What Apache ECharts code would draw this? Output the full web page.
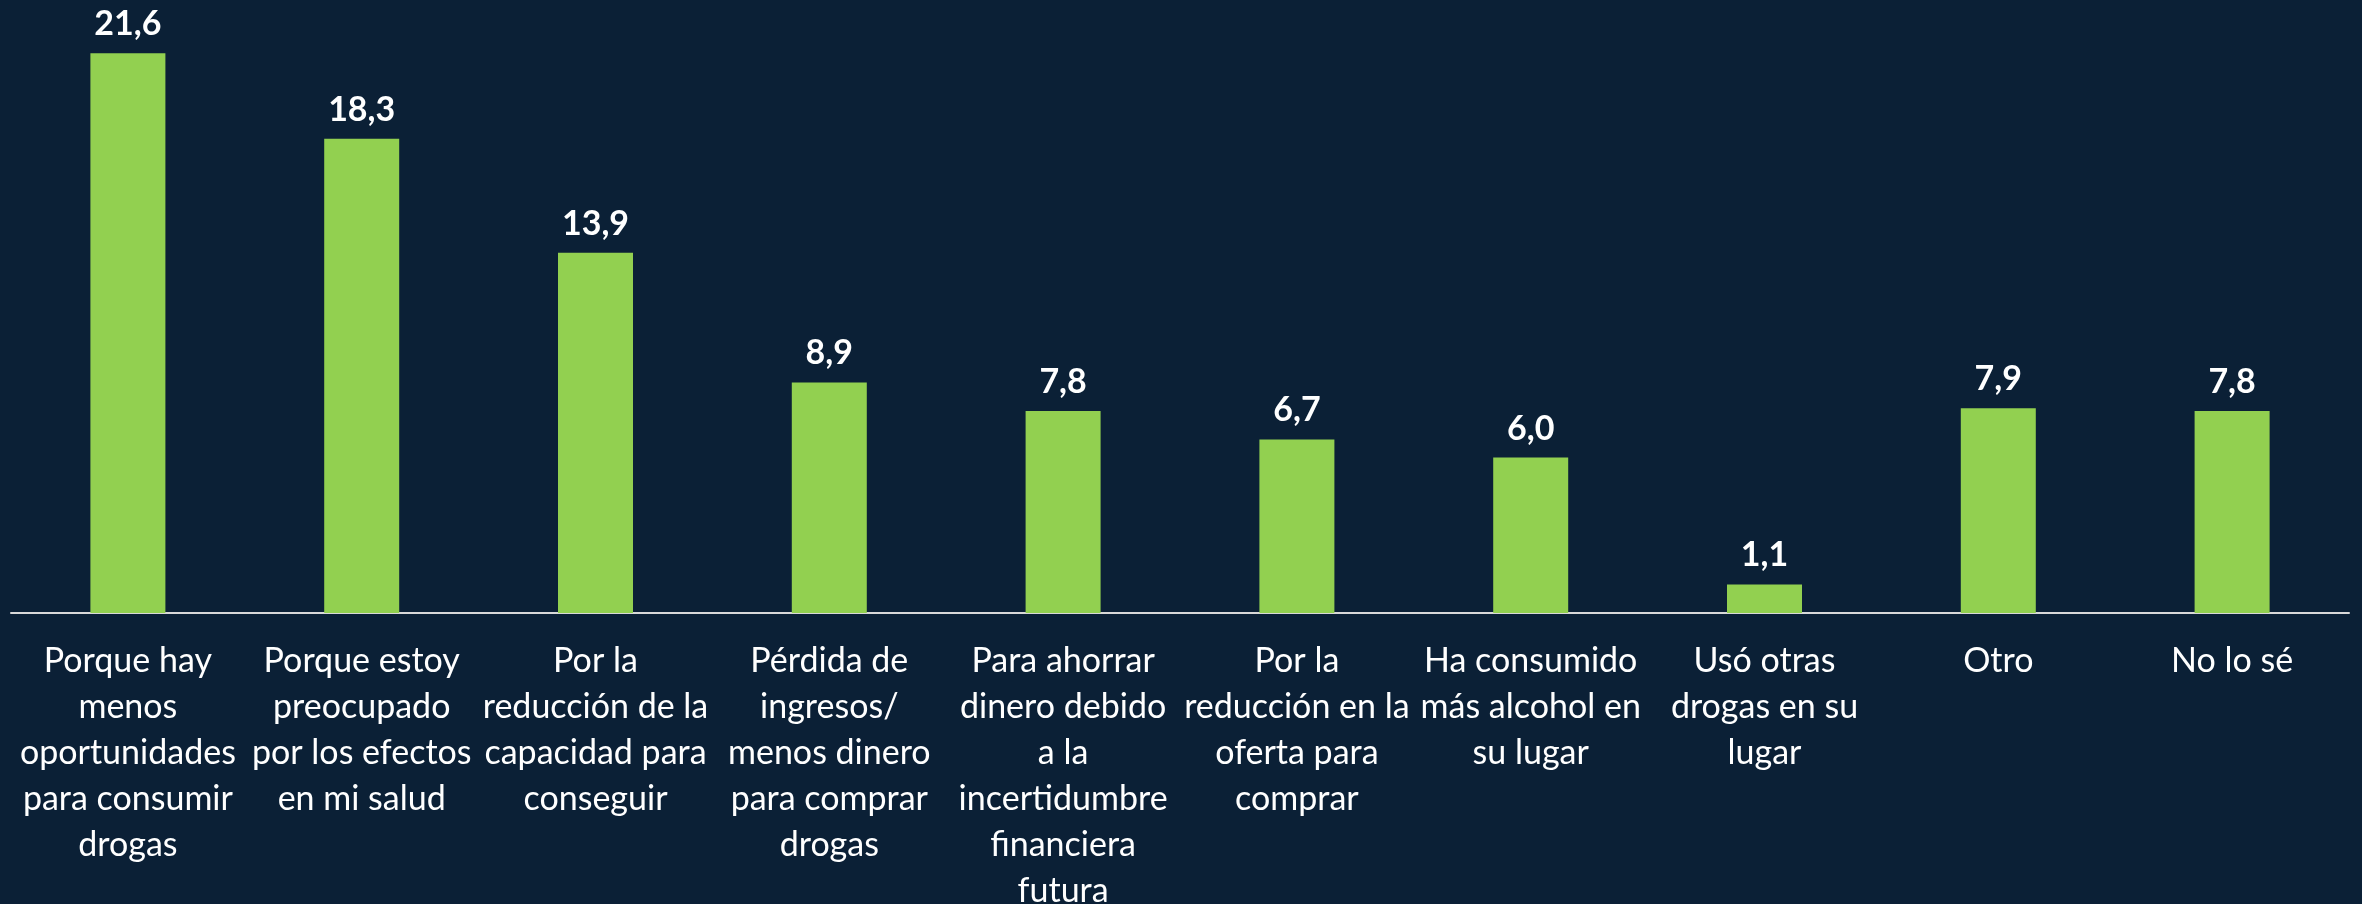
<!DOCTYPE html>
<html>
<head>
<meta charset="utf-8">
<title>Motivos</title>
<script src="https://cdn.jsdelivr.net/npm/echarts@6/dist/echarts.min.js"></script>
<style>
  html, body { margin: 0; padding: 0; background: #0b2036; }
  #chart { width: 2362px; height: 904px; }
</style>
</head>
<body>
<div id="chart"></div>
<script>
// categorías (saltos de línea como en el original)
const categories = [
  'Porque hay\nmenos\noportunidades\npara consumir\ndrogas',
  'Porque estoy\npreocupado\npor los efectos\nen mi salud',
  'Por la\nreducción de la\ncapacidad para\nconseguir',
  'Pérdida de\ningresos/\nmenos dinero\npara comprar\ndrogas',
  'Para ahorrar\ndinero debido\na la\nincertidumbre\nfinanciera\nfutura',
  'Por la\nreducción en la\noferta para\ncomprar',
  'Ha consumido\nmás alcohol en\nsu lugar',
  'Usó otras\ndrogas en su\nlugar',
  'Otro',
  'No lo sé'
]

// porcentajes
const values = [21.6, 18.3, 13.9, 8.9, 7.8, 6.7, 6.0, 1.1, 7.9, 7.8]

const chart = echarts.init(document.getElementById('chart'))

chart.setOption({
  backgroundColor: '#0b2036',
  animation: false,
  grid: {
    left: 11,
    right: 13,
    top: 43,
    bottom: 291,
    outerBoundsMode: 'none'
  },
  xAxis: {
    type: 'category',
    data: categories,
    axisLine: { lineStyle: { color: '#d9d9d9', width: 2 } },
    axisTick: { show: false },
    axisLabel: {
      interval: 0,
      margin: 25,
      color: '#ffffff',
      fontFamily: 'Lato',
      fontSize: 34,
      lineHeight: 46
    }
  },
  yAxis: {
    type: 'value',
    min: 0,
    max: 22,
    show: false,
    splitLine: { show: false }
  },
  series: [
    {
      type: 'bar',
      data: values,
      barWidth: 75,
      itemStyle: { color: '#92d050' },
      label: {
        show: true,
        position: 'top',
        distance: 12,
        color: '#ffffff',
        fontFamily: 'Lato',
        fontWeight: 'bold',
        fontSize: 34,
        formatter: p => p.value.toFixed(1).replace('.', ',')
      }
    }
  ]
})
</script>
</body>
</html>
